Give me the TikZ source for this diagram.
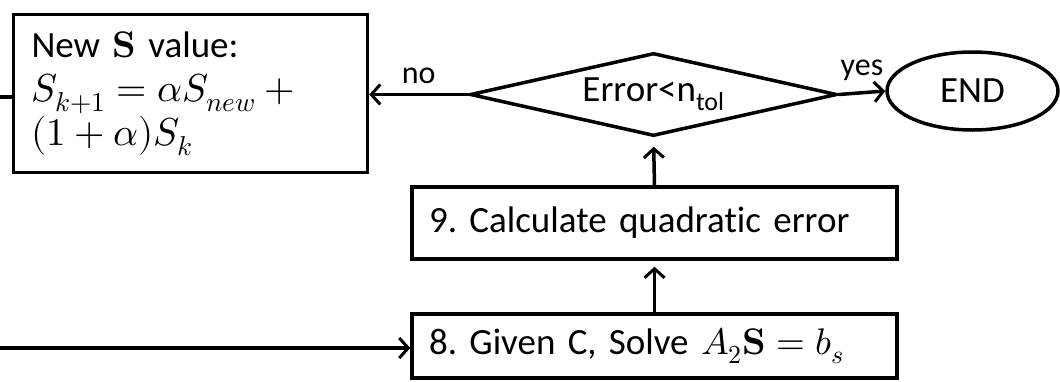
\documentclass[tikz,border=0pt]{standalone}
\usepackage{unicode-math}
\setmainfont{Carlito}[Ligatures=NoCommon]
\setmathfont{Latin Modern Math}
\usetikzlibrary{shapes.geometric,arrows.meta}
\frenchspacing
\begin{document}
\begin{tikzpicture}[x=1pt,y=-1pt,
  every node/.style={font=\fontsize{37}{42}\selectfont},
  box/.style={draw,line width=3.5pt,rectangle,inner ysep=0pt,align=left},
  conn/.style={line width=3.5pt,-{Straight Barb[length=9pt,width=20pt,line width=3pt]}},
  lbl/.style={font=\fontsize{32}{38}\selectfont,inner sep=0pt}]
\useasboundingbox (0,0) rectangle (1060,381);
\node[box,minimum height=158pt,inner xsep=18pt,text width=318pt] (upd) at (190.5,93.5)
  {New $\symbf{S}$ value:\\[2pt]
   {\fontsize{39}{44}\selectfont$S_{k+1}=\alpha S_{new}+{}$}\\[2pt]
   {\fontsize{39}{44}\selectfont$(1+\alpha)S_k$}};
\node[draw,diamond,aspect=4.42,line width=3.5pt,minimum width=367pt,minimum height=83pt,inner sep=0pt] (dec) at (653.5,94.5)
  {Error<n\textsubscript{tol}};
\node[draw,ellipse,line width=3.5pt,minimum width=171pt,minimum height=78pt,inner sep=0pt] (end) at (972.5,91) {END};
\node[box,minimum height=72pt,inner xsep=17pt,text width=451pt] (s9) at (654.5,223) {9. Calculate quadratic error};
\node[box,minimum height=64pt,inner xsep=17pt,text width=451pt] (s8) at (654.5,346) {8. Given C, Solve $A_2\symbf{S}=b_s$};
\coordinate (inA) at (0,97);
\coordinate (inB) at (0,348);
\draw[line width=3.5pt] (inA) -- (inA -| upd.west);
\draw[conn] (inB) -- (inB -| s8.west);
\draw[conn] (dec.west) -- (dec.west -| upd.east) node[lbl,midway,above=9pt] {no};
\draw[conn] (dec.east) -- (end.west) node[lbl,midway,above=10pt] {yes};
\draw[conn,shorten >=9pt] (s9.north) -- (dec.south);
\draw[conn,shorten >=6pt] (s8.north) -- (s9.south);
\end{tikzpicture}
\end{document}
